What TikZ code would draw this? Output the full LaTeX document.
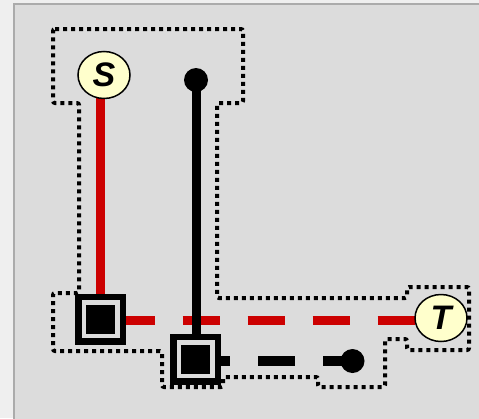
\documentclass[tikz,border=0pt]{standalone}
\usepackage{fontspec}
\setmainfont{Liberation Sans}
\usetikzlibrary{shapes.geometric}
\pgfdeclarelayer{back}
\pgfdeclarelayer{bg}
\pgfsetlayers{back,bg,main}
\definecolor{outerbg}{HTML}{EFEFEF}
\definecolor{panelbg}{HTML}{DCDCDC}
\definecolor{panelline}{HTML}{ABABAB}
\definecolor{wire}{HTML}{CC0000}
\definecolor{termfill}{HTML}{FFFFCC}
\tikzset{
  term/.style={ellipse, draw=black, line width=1.5, fill=termfill, minimum width=52, minimum height=47, inner sep=0,
    font=\fontsize{34}{34}\selectfont\bfseries\itshape},
  sqouter/.style={rectangle, draw=black, line width=6.5, fill=panelbg, minimum size=44.5, inner sep=0},
  sqinner/.style={rectangle, fill=black, minimum size=29, inner sep=0},
  pin/.style={circle, fill=black, minimum size=24, inner sep=0},
  redwire/.style={draw=wire, line width=9},
  blackwire/.style={draw=black, line width=9},
  outline/.style={draw=black, line width=4, dash pattern=on 4 off 4, rounded corners=2},
}
\begin{document}
\begin{tikzpicture}[x=1pt,y=-1pt]
\useasboundingbox (0,0) rectangle (479,418);
\begin{pgfonlayer}{back}
\fill[outerbg] (0,0) rectangle (479,418);
\fill[panelbg] (14,4) rectangle (485,425);
\draw[panelline, line width=2] (14,425) -- (14,4) -- (485,4);
\end{pgfonlayer}

% outline region
\draw[outline] (53,29) -- (243,29) -- (243,103) -- (217,103) -- (217,298) -- (407,298) -- (407,287)
  -- (469,287) -- (469,350) -- (407,350) -- (407,339) -- (385,339) -- (385,387) -- (318,387)
  -- (318,377) -- (223,377) -- (223,387) -- (162,387) -- (162,351) -- (53,351) -- (53,293)
  -- (79,293) -- (79,103) -- (53,103) -- cycle;

% nodes
\node[term] (S) at (104,75) {S};
\node[term] (T) at (441,318) {T};
\node[pin] (p1) at (196,80) {};
\node[pin] (p2) at (352.5,361) {};
\node[sqouter] (sq1) at (100.5,319) {};
\node[sqinner] (sq1i) at (sq1.center) {};
\node[sqouter] (sq2) at (195.5,359) {};
\node[sqinner] (sq2i) at (sq2.center) {};

\begin{pgfonlayer}{bg}
\draw[redwire] (sq1.center) -- (sq1.center |- S.center);
\draw[redwire, dash pattern=on 37 off 28, dash phase=48] ([yshift=-1.5pt]sq1.center) -- ([yshift=-1.5pt]sq1.center -| T.center);
\draw[blackwire] (p1.center) -- (p1.center |- sq2.center);
\draw[blackwire, line width=10, dash pattern=on 37 off 28, dash phase=2.5] ([yshift=-2pt]sq2.center) -- (p2.center);
\end{pgfonlayer}
\end{tikzpicture}
\end{document}
